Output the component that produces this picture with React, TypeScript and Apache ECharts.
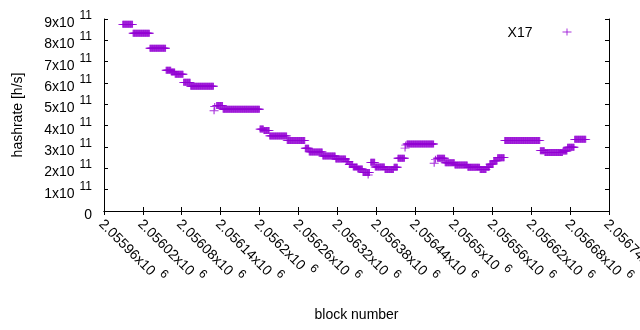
import React, { useEffect, useRef } from "react";
import * as echarts from "echarts";

// Runs of constant hashrate (block ranges, value in units of 1e11 h/s)
const runStart = [2055989, 2056005, 2056031, 2056056, 2056064, 2056070, 2056083, 2056094, 2056134, 2056144, 2056201, 2056207, 2056216, 2056243, 2056271, 2056277, 2056298, 2056318, 2056334, 2056339, 2056345, 2056352, 2056360, 2056372, 2056379, 2056394, 2056408, 2056414, 2056428, 2056475, 2056487, 2056502, 2056522, 2056541, 2056551, 2056556, 2056562, 2056568, 2056579, 2056634, 2056641, 2056669, 2056676, 2056687];
const runEnd = [2056004, 2056030, 2056055, 2056063, 2056069, 2056082, 2056093, 2056129, 2056143, 2056200, 2056206, 2056215, 2056242, 2056270, 2056276, 2056297, 2056317, 2056333, 2056338, 2056344, 2056351, 2056359, 2056370, 2056378, 2056393, 2056407, 2056413, 2056424, 2056469, 2056486, 2056501, 2056521, 2056540, 2056550, 2056555, 2056561, 2056567, 2056578, 2056633, 2056640, 2056668, 2056675, 2056686, 2056704];
const runValue = [8.75, 8.33, 7.63, 6.6, 6.52, 6.41, 6.03, 5.85, 4.94, 4.77, 3.84, 3.77, 3.52, 3.31, 2.94, 2.77, 2.58, 2.44, 2.32, 2.18, 2.06, 1.97, 1.81, 2.28, 2.06, 1.95, 2.05, 2.47, 3.14, 2.47, 2.26, 2.16, 2.05, 1.95, 2.05, 2.2, 2.35, 2.5, 3.31, 2.83, 2.74, 2.81, 2.99, 3.36];
// Isolated points
const pointBlock = [2056130, 2056131, 2056368, 2056425, 2056426, 2056470, 2056472];
const pointValue = [4.7, 4.9, 1.69, 2.95, 3.09, 2.24, 2.42];

const seriesName = "X17";
const PURPLE = "#9400d3";

function buildData(): number[][] {
  const out: number[][] = [];
  for (let i = 0; i < runStart.length; i++) {
    for (let b = runStart[i]; b <= runEnd[i]; b++) out.push([b, runValue[i] * 1e11]);
  }
  for (let i = 0; i < pointBlock.length; i++) out.push([pointBlock[i], pointValue[i] * 1e11]);
  return out;
}

const plus = "path://M0 3.5L9 3.5M4.5 0L4.5 7";

export default function App() {
  const ref = useRef<HTMLDivElement>(null);
  useEffect(() => {
    const chart = echarts.init(ref.current!, null, { renderer: "svg" });
    const font = "'Liberation Sans', Arial, sans-serif";
    const supRich = {
      a: { fontSize: 14, lineHeight: 20, verticalAlign: "bottom", color: "#000", fontFamily: font },
      b: { fontSize: 12, lineHeight: 12, verticalAlign: "top", color: "#000", fontFamily: font, padding: [0, 0, 0, 5] },
    };
    chart.setOption({
      animation: false,
      textStyle: { fontFamily: font },
      grid: { left: 104, right: 31, top: 19, bottom: 119, containLabel: false, outerBoundsMode: "none" },
      legend: {
        data: [{ name: seriesName, icon: plus }],
        right: 61,
        top: 20,
        align: "right",
        itemWidth: 9,
        itemHeight: 7,
        formatter: "{t|" + seriesName + "}",
        textStyle: {
          rich: { t: { padding: [0, 25, 0, 0], fontSize: 14, color: "#000", fontFamily: font } },
        },
        itemStyle: { color: "none", borderColor: PURPLE, borderWidth: 1 },
      },
      xAxis: [
        {
          type: "value",
          min: 2055960,
          max: 2056740,
          interval: 60,
          position: "bottom",
          name: "block number",
          nameLocation: "middle",
          nameGap: 96,
          nameTextStyle: { fontSize: 14, color: "#000", fontFamily: font },
          axisLine: { lineStyle: { color: "#000", width: 1 } },
          axisTick: { inside: true, length: 4, lineStyle: { color: "#000" } },
          splitLine: { show: false },
          axisLabel: {
            rotate: -45,
            margin: 8,
            showMaxLabel: true,
            hideOverlap: false,
            formatter: (v: number) => "{a|" + parseFloat((v / 1e6).toFixed(5)).toString() + "x10}{b|6}",
            rich: supRich,
          },
        },
        {
          type: "value",
          min: 2055960,
          max: 2056740,
          interval: 60,
          position: "top",
          axisLine: { lineStyle: { color: "#000", width: 1 } },
          axisTick: { inside: true, length: 4, lineStyle: { color: "#000" } },
          axisLabel: { show: false },
          splitLine: { show: false },
        },
      ],
      yAxis: [
        {
          type: "value",
          min: 0,
          max: 9e11,
          interval: 1e11,
          position: "left",
          name: "hashrate [h/s]",
          nameLocation: "middle",
          nameGap: 80,
          nameTextStyle: { fontSize: 14, color: "#000", fontFamily: font },
          axisLine: { show: true, lineStyle: { color: "#000", width: 1 } },
          axisTick: { show: true, inside: true, length: 4, lineStyle: { color: "#000" } },
          splitLine: { show: false },
          axisLabel: {
            margin: 12,
            formatter: (v: number) => (v === 0 ? "{a|0}" : "{a|" + Math.round(v / 1e11) + "x10}{b|11}"),
            rich: supRich,
          },
        },
        {
          type: "value",
          min: 0,
          max: 9e11,
          interval: 1e11,
          position: "right",
          axisLine: { show: true, lineStyle: { color: "#000", width: 1 } },
          axisTick: { show: true, inside: true, length: 4, lineStyle: { color: "#000" } },
          axisLabel: { show: false },
          splitLine: { show: false },
        },
      ],
      series: [
        {
          name: seriesName,
          type: "scatter",
          xAxisIndex: 0,
          yAxisIndex: 0,
          symbol: plus,
          symbolSize: [9, 7],
          itemStyle: { color: "none", borderColor: PURPLE, borderWidth: 1 },
          emphasis: { disabled: true },
          data: buildData(),
        },
      ],
    });
    return () => chart.dispose();
  }, []);
  return <div ref={ref} style={{ position: "fixed", left: 0, top: 0, width: 640, height: 330 }} />;
}
